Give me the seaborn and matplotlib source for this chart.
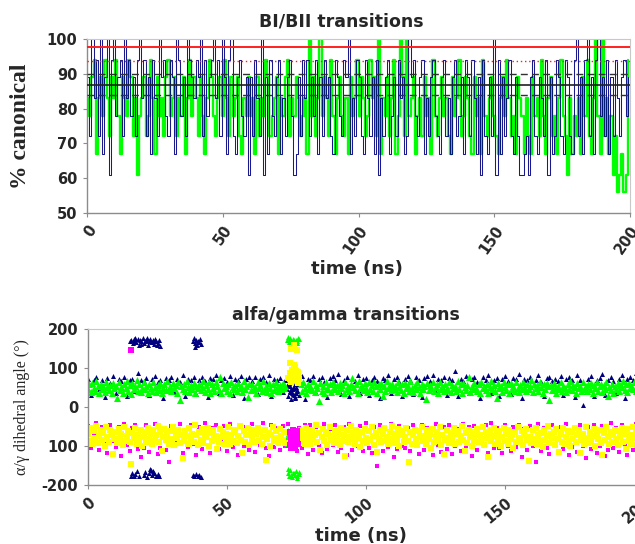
import numpy as np
import pandas as pd
import matplotlib
matplotlib.use("Agg")
import matplotlib.pyplot as plt
import seaborn as sns

nan = float("nan")

# ---------------- Top panel: BI/BII transitions (% canonical) ----------------
bibii_green = [
    83, 78, 89, 94, 67, 83, 89, 78, 94, 83, 72, 89, 83, 94, 78, 67, 89, 83, 78, 94, 89, 72, 83, 61, 78,
    83, 89, 72, 78, 94, 83, 67, 89, 78, 83, 72, 89, 94, 78, 83, 89, 72, 83, 78, 89, 67, 83, 94, 78, 89,
    83, 72, 89, 78, 67, 83, 94, 89, 78, 72, 83, 89, 78, 94, 83, 72, 89, 78, 83, 89, 72, 67, 83, 78, 89,
    78, 83, 67, 89, 72, 83, 78, 94, 89, 72, 78, 83, 89, 67, 83, 78, 89, 94, 72, 83, 78, 89, 83, 72, 78,
    83, 67, 100, 78, 89, 72, 83, 100, 78, 89, 83, 72, 94, 78, 67, 83, 89, 78, 72, 83, 67, 89, 78, 83, 94,
    78, 89, 83, 72, 78, 94, 83, 89, 72, 100, 67, 83, 78, 89, 72, 83, 94, 67, 78, 100, 89, 72, 100, 78, 83,
    89, 67, 78, 83, 72, 89, 78, 83, 67, 94, 78, 72, 83, 89, 78, 83, 72, 67, 89, 78, 83, 94, 72, 78, 89,
    83, 72, 67, 89, 78, 83, 67, 94, 78, 72, 83, 89, 78, 72, 67, 83, 89, 78, 94, 83, 72, 78, 67, 89, 83,
    78, 67, 83, 72, 67, 89, 78, 83, 72, 94, 78, 67, 83, 89, 72, 78, 67, 83, 94, 78, 72, 61, 83, 67, 78,
    72, 83, 67, 89, 78, 94, 72, 67, 83, 100, 78, 67, 100, 72, 83, 67, 78, 61, 72, 56, 61, 67, 56, 61, 94,
]
bibii_navy = [
    89, 72, 100, 83, 94, 72, 100, 67, 89, 100, 61, 94, 100, 78, 89, 94, 72, 100, 83, 94, 78, 89, 72, 94, 100,
    83, 94, 72, 89, 67, 94, 83, 72, 100, 89, 94, 78, 72, 94, 89, 67, 100, 94, 78, 89, 72, 100, 94, 89, 83,
    94, 89, 100, 72, 94, 78, 89, 94, 100, 83, 94, 72, 100, 89, 67, 94, 100, 72, 67, 89, 94, 78, 72, 89, 61,
    89, 72, 94, 83, 72, 100, 61, 89, 67, 94, 78, 72, 89, 94, 67, 83, 72, 89, 94, 78, 61, 67, 89, 72, 94,
    83, 94, 72, 89, 78, 94, 67, 89, 72, 94, 83, 89, 72, 67, 94, 89, 78, 72, 94, 89, 100, 67, 83, 72, 94,
    89, 72, 67, 94, 83, 72, 89, 67, 94, 61, 83, 72, 89, 94, 67, 78, 89, 72, 94, 83, 89, 67, 72, 100, 89,
    94, 78, 72, 89, 94, 67, 83, 72, 89, 94, 78, 72, 67, 89, 94, 72, 83, 67, 89, 94, 72, 78, 89, 67, 94,
    89, 72, 94, 83, 67, 89, 61, 94, 72, 67, 89, 72, 100, 61, 94, 67, 89, 72, 83, 94, 72, 67, 89, 72, 61,
    61, 67, 72, 61, 89, 94, 72, 67, 89, 83, 72, 94, 61, 89, 67, 72, 94, 89, 72, 67, 94, 89, 72, 67, 94,
    100, 72, 89, 67, 94, 100, 72, 89, 67, 94, 100, 78, 89, 72, 94, 67, 89, 72, 94, 83, 72, 89, 94, 78, 89,
]
bibii_time = np.arange(len(bibii_green)) * 0.8  # sampling grid (ns)

ref_red_solid = 97.8
ref_red_dotted = 93.8
ref_black_dashed = [90.0, 83.9]
ref_black_solid = 86.8

# ---------------- Bottom panel: alfa/gamma transitions (degrees) ----------------
ag_green = [
    45, 58, 38, 62, 50, 41, 66, 53, 35, 60, 47, 55, 39, 64, 51, 43, 57, 36, 61, 49,
    54, 22, 63, 44, 52, 37, 59, 48, 66, 40, 56, 33, 61, 46, 53, 70, 42, 58, 38, 50,
    63, 45, 55, 36, 60, 48, 41, 65, 52, 39, 57, 44, 62, 35, 50, 58, 43, 67, 47, 54,
    40, 61, 49, 56, 37, 64, 18, 53, 45, 59, 42, 66, 51, 38, 57, 46, 62, 36, 55, 48,
    60, 43, 52, 67, 39, 56, 47, 63, 35, 58, 50, 41, 65, 54, 44, 78, 37, 61, 48, 53,
    42, 59, 36, 64, 51, 45, 57, 40, 62, 49, 55, 38, 66, 46, 53, 25, 60, 43, 58, 47,
    52, 37, 63, 48, 56, 41, 67, 45, 54, 39, 61, 50, 35, 58, 44, 64, 51, 40, 57, 46,
    62, 49, 55, nan, nan, nan, nan, nan, nan, nan, nan, nan, nan, 58, 41, 64, 50, 37, 60, 47,
    53, 44, 66, 39, 57, 48, 15, 61, 42, 55, 36, 63, 50, 45, 59, 38, 65, 52, 47, 56,
    40, 62, 49, 57, 35, 64, 46, 53, 41, 60, 74, 51, 43, 58, 37, 66, 48, 55, 44, 61,
    50, 39, 63, 47, 56, 42, 65, 53, 36, 59, 45, 62, 28, 54, 40, 67, 49, 57, 43, 60,
    46, 55, 38, 64, 51, 44, 58, 35, 62, 48, 53, 41, 66, 50, 39, 57, 45, 63, 52, 37,
    59, 47, 54, 20, 61, 43, 56, 49, 65, 40, 52, 58, 36, 63, 46, 55, 42, 60, 50, 44,
    64, 38, 57, 48, 53, 41, 67, 45, 59, 36, 62, 51, 43, 56, 76, 39, 54, 47, 61, 50,
    42, 58, 37, 63, 49, 55, 44, 60, 35, 52, 66, 46, 57, 40, 24, 61, 48, 53, 38, 64,
    51, 43, 59, 36, 62, 47, 55, 41, 65, 50, 38, 57, 45, 63, 52, 40, 58, 46, 54, 68,
    39, 60, 48, 56, 42, 64, 51, 37, 58, 45, 62, 53, 19, 57, 44, 61, 49, 36, 55, 47,
    63, 41, 54, 50, 38, 59, 46, 66, 43, 57, 52, 35, 61, 48, 55, 40, 64, 47, 53, 42,
    58, 45, 62, 37, 56, 49, 65, 42, 53, 60, 39, 57, 46, 63, 27, 51, 44, 59, 36, 54,
    47, 61, 40, 56, 52, 66, 43, 58, 38, 62, 49, 55, 45, 64, 41, 57, 50, 37, 60, 53,
]
ag_yellow = [
    -70, -88, -55, -95, -62, -80, -48, -92, -75, -58, -85, -66, -99, -52, -78, -90, -60, -72, -120, -83,
    -64, -93, -57, -81, -69, -97, -50, -86, -74, -61, -89, -145, -67, -79, -54, -94, -71, -84, -59, -100,
    -76, -63, -91, -53, -82, -68, -96, -58, -87, -73, -49, -90, -65, -112, -77, -56, -85, -70, -94, -61,
    -83, -51, -98, -66, -79, -59, -92, -72, -130, -86, -62, -75, -95, -55, -81, -68, -89, -47, -73, -97,
    -64, -85, -57, -93, -70, -78, -53, -99, -67, -88, -60, -82, -74, -108, -91, -56, -76, -63, -94, -69,
    -80, -52, -96, -71, -87, -58, -65, -92, -75, -48, -84, -118, -62, -89, -73, -55, -97, -67, -81, -60,
    -90, -70, -54, -86, -63, -95, -77, -58, -135, -83, -66, -99, -72, -50, -88, -61, -79, -93, -57, -74,
    -85, -65, -92, nan, nan, nan, nan, nan, nan, nan, nan, nan, nan, -60, -88, -71, -96, -55, -80, -68,
    -94, -59, -82, -73, -47, -91, -66, -110, -78, -56, -87, -63, -98, -70, -52, -84, -75, -93, -61, -81,
    -69, -97, -54, -86, -72, -125, -60, -90, -77, -49, -83, -66, -95, -58, -80, -71, -102, -64, -88, -56,
    -79, -93, -62, -85, -51, -74, -98, -67, -115, -82, -59, -90, -70, -55, -87, -76, -96, -63, -81, -48,
    -92, -68, -84, -57, -99, -73, -61, -89, -77, -53, -86, -140, -65, -94, -71, -58, -83, -97, -62, -78,
    -50, -88, -74, -95, -60, -82, -69, -104, -56, -91, -76, -64, -87, -52, -98, -72, -120, -85, -59, -79,
    -93, -66, -81, -54, -96, -70, -62, -89, -75, -48, -84, -112, -67, -92, -58, -78, -99, -63, -86, -73,
    -57, -90, -71, -83, -52, -97, -65, -80, -128, -60, -88, -74, -55, -94, -69, -85, -61, -100, -77, -53,
    -87, -68, -95, -59, -82, -73, -106, -64, -91, -50, -79, -86, -62, -98, -71, -56, -84, -138, -76, -93,
    -60, -81, -54, -96, -72, -88, -66, -103, -58, -85, -75, -49, -92, -69, -80, -63, -97, -57, -83, -116,
    -70, -89, -53, -94, -77, -61, -86, -100, -65, -82, -55, -91, -73, -59, -118, -84, -68, -96, -51, -79,
    -92, -63, -87, -74, -56, -99, -70, -81, -60, -93, -124, -67, -85, -52, -78, -95, -64, -89, -72, -58,
    -83, -97, -61, -76, -54, -90, -69, -108, -57, -86, -73, -94, -50, -80, -66, -98, -62, -88, -75, -55,
]
ag_fine_time = np.arange(len(ag_green)) * 0.5  # sampling grid (ns)

ag_navy = [
    72, 30, 68, 78, 45, 70, 25, 74, 62, 80, 35, 71, 66, 76, 28, 69, 73, 40, 88, 70,
    67, 75, 32, 72, 79, 64, 70, 22, 74, 68, 77, 38, 71, 65, 81, 29, 73, 69, 76, 33,
    70, 78, 66, 26, 74, 71, 83, 36, 69, 75, 64, 79, 31, 72, 68, 80, 24, 73, 77, 67,
    76, 34, 71, 78, 65, 82, 27, 73, 69, 75, 39, 70, 60, 45, 30, 74, 66, 79, 21, 71,
    68, 80, 35, 72, 77, 64, 25, 74, 79, 70, 84, 33, 69, 76, 28, 73, 67, 81, 37, 72,
    75, 30, 70, 78, 66, 23, 74, 69, 82, 36, 71, 77, 65, 29, 73, 80, 68, 34, 76, 70,
    26, 74, 79, 67, 83, 38, 72, 68, 77, 31, 75, 70, 92, 27, 73, 66, 80, 35, 71, 78,
    64, 24, 76, 70, 81, 37, 69, 74, 28, 72, 79, 66, 33, 75, 71, 85, 22, 73, 68, 77,
    36, 70, 82, 65, 29, 74, 78, 67, 71, 67, 80, 32, 73, 76, 69, 25, 83, 70, 5, 38,
    72, 79, 27, 68, 74, 84, 31, 70, 77, 66, 35, 73, 81, 23, 71, 76, 68, 86, 30, 74,
]
ag_magenta = [
    -48, -105, -75, -42, -110, -52, -95, -118, -45, -88, -102, -50, -125, -44, -98, -112, -55, -46, -108, -128,
    -104, -47, -115, -92, -43, -120, -106, -53, -111, -140, -49, -101, -85, -44, -117, -58, -103, -46, -96, -122,
    -51, -108, -41, -99, -119, -54, -45, -107, -90, -48, -113, -43, -102, -57, -124, -46, -100, -52, -109, -44,
    -115, -50, -97, -42, -106, -126, -47, -103, -55, -111, -49, -100, -44, -95, -108, -114, -53, -105, -46, -121,
    -45, -110, -52, -101, -118, -43, -107, -56, -98, -47, -116, -104, -50, -122, -44, -109, -58, -100, -48, -113,
    -42, -105, -119, -51, -152, -46, -112, -55, -103, -44, -127, -108, -49, -101, -106, -53, -114, -47, -99, -120,
    -46, -111, -54, -102, -123, -43, -98, -115, -50, -107, -45, -120, -100, -57, -112, -44, -104, -52, -126, -48,
    -109, -55, -101, -46, -117, -42, -105, -53, -106, -119, -47, -99, -113, -51, -103, -45, -128, -56, -110, -49,
    -100, -140, -44, -114, -54, -105, -121, -47, -97, -112, -50, -108, -43, -124, -102, -56, -116, -46, -99, -130,
    -52, -107, -45, -118, -101, -49, -125, -111, -42, -104, -55, -115, -47, -100, -122, -53, -109, -44, -119, -48,
]
ag_coarse_time = np.arange(len(ag_navy)) * 1.0  # sampling grid (ns)

# transition episodes
navy_ex_t = [15.2, 15.6, 16.1, 16.5, 17.0, 17.4, 17.9, 18.3, 18.8, 19.2, 19.7, 20.1, 20.6, 21.0, 21.5,
             21.9, 22.4, 22.8, 23.3, 23.7, 24.2, 24.6, 25.1, 25.5, 25.9, 16.8, 19.0, 21.2, 23.0, 24.9,
             37.6, 38.0, 38.4, 38.9, 39.3, 39.7, 40.2, 40.6, 38.6, 39.9,
             15.3, 15.9, 16.4, 17.0, 17.6, 18.2, 20.0, 20.6, 21.3, 21.9, 22.5, 23.1, 23.8, 24.4, 25.0,
             25.6, 22.2, 23.5, 37.8, 38.3, 38.9, 39.4, 40.0, 40.5,
             71.6, 71.9, 72.2, 72.5, 72.8, 73.1, 73.4, 73.7, 74.0, 74.3, 74.6, 74.9, 75.2, 75.5, 75.8,
             72.0, 72.7, 73.3, 73.9, 74.5, 75.1, 75.7, 72.4, 73.6, 74.8]
navy_ex_v = [168, 172, 163, 175, 170, 166, 174, 160, 171, 168, 176, 164, 170, 173, 158,
             169, 175, 166, 171, 162, 174, 168, 165, 172, 156, 177, 161, 178, 167, 159,
             170, 176, 163, 172, 158, 168, 174, 161, 155, 166,
             -176, -168, -178, -172, -165, -177, -174, -166, -179, -170, -162, -175, -168, -177, -171,
             -178, -158, -164, -175, -178, -172, -177, -174, -179,
             45, 28, 62, 38, 55, 20, 70, 33, 48, 60, 25, 52, 40, 65, 30,
             57, 42, 35, 50, 22, 44, 58, 78, 47, 36]
green_ex_t = [71.7, 72.2, 72.7, 73.2, 73.7, 74.2, 74.7, 75.2, 75.7, 72.0, 73.0, 74.0, 75.0, 76.0,
              71.8, 72.3, 72.8, 73.3, 73.8, 74.3, 74.8, 75.3, 75.8, 72.1, 73.1, 74.1, 75.1, 76.0,
              71.5, 71.7, 71.9, 72.1, 72.3, 71.6, 71.8, 72.0, 72.2, 72.4]
green_ex_v = [172, 166, 178, 170, 175, 164, 173, 168, 176, 180, 167, 171, 165, 174,
              -170, -176, -162, -180, -168, -174, -165, -178, -171, -160, -175, -169, -182, -166,
              -62, -78, -90, -70, -85, -95, -58, -82, -74, -66]
yellow_ex_t = [72.1, 72.5, 72.9, 73.3, 73.7, 74.1, 74.5, 74.9, 75.3, 75.7, 72.7, 73.5, 74.3, 75.1, 75.9,
               73.0, 74.0, 75.0, 75.5, 74.6]
yellow_ex_v = [75, 88, 65, 95, 80, 108, 70, 92, 84, 62, 112, 78, 98, 86, 72,
               150, 160, 145, 90, 102]
magenta_ex_t = [72.6, 72.9, 73.2, 73.5, 73.8, 74.1, 74.4, 74.7, 75.0, 75.3, 72.8, 73.4, 74.0, 74.6, 75.2,
                73.1, 73.7, 74.3, 74.9, 75.5, 15.6]
magenta_ex_v = [-65, -88, -72, -95, -60, -80, -102, -70, -92, -76, -98, -84, -68, -90, -62,
                -105, -78, -86, -74, -94, 145]

xticks = [0, 50, 100, 150, 200]
top_yticks = [50, 60, 70, 80, 90, 100]
bot_yticks = [-200, -100, 0, 100, 200]
bot_yticklabels = ["-200", "100", "0", "100", "200"]

# ---------------- figure ----------------
sns.set_style("white")
plt.rcParams["font.family"] = ["DejaVu Sans"]

NAVY = "#000080"
LIME = "#00FF00"
YELLOW = "#FFFF00"
MAGENTA = "#FF00FF"
GRAY = "#8c8c8c"

fig = plt.figure(figsize=(6.35, 5.44), dpi=100)
ax1 = fig.add_axes([87 / 635, 1 - 213 / 544, 543 / 635, 174 / 544])
ax2 = fig.add_axes([88 / 635, 1 - 485 / 544, 556 / 635, 156 / 544])

# top panel
df_top = pd.DataFrame({"t": bibii_time, "green": bibii_green, "navy": bibii_navy})
sns.lineplot(data=df_top, x="t", y="green", color=LIME, lw=1.7, ax=ax1, estimator=None,
             drawstyle="steps-post")
sns.lineplot(data=df_top, x="t", y="navy", color=NAVY, lw=0.75, alpha=0.9, ax=ax1, estimator=None,
             drawstyle="steps-post")
ax1.axhline(ref_red_solid, color="#ff2020", lw=1.4, zorder=5)
ax1.axhline(ref_red_dotted, color="#ff2020", lw=1.0, ls=(0, (1, 2)), zorder=5)
for v in ref_black_dashed:
    ax1.axhline(v, color="#303030", lw=1.0, ls=(0, (5, 3)), zorder=5)
ax1.axhline(ref_black_solid, color="#202020", lw=1.2, zorder=5)
ax1.set_xlim(0, 200)
ax1.set_ylim(50, 100)
ax1.set_yticks(top_yticks)
ax1.set_xticks(xticks)
ax1.set_xticklabels([str(x) for x in xticks], rotation=55, ha="right", rotation_mode="anchor")

# bottom panel
df_nv = pd.DataFrame({"t": ag_coarse_time, "v": ag_navy})
df_mg = pd.DataFrame({"t": ag_coarse_time, "v": ag_magenta})
df_gr = pd.DataFrame({"t": ag_fine_time, "v": ag_green})
df_yl = pd.DataFrame({"t": ag_fine_time, "v": ag_yellow})
s_band = 26
s_edge = 13
sns.scatterplot(data=df_nv, x="t", y="v", color=NAVY, marker="^", s=s_edge, linewidth=0, ax=ax2)
sns.scatterplot(x=navy_ex_t, y=navy_ex_v, color=NAVY, marker="^", s=s_edge, linewidth=0, ax=ax2)
sns.scatterplot(data=df_mg, x="t", y="v", color=MAGENTA, marker="s", s=s_edge - 2, linewidth=0, ax=ax2)
sns.scatterplot(data=df_gr, x="t", y="v", color=LIME, marker="^", s=s_band, linewidth=0, ax=ax2)
sns.scatterplot(x=green_ex_t, y=green_ex_v, color=LIME, marker="^", s=s_edge, linewidth=0, ax=ax2)
sns.scatterplot(data=df_yl, x="t", y="v", color=YELLOW, marker="s", s=s_band - 4, linewidth=0, ax=ax2)
sns.scatterplot(x=yellow_ex_t, y=yellow_ex_v, color=YELLOW, marker="s", s=s_edge, linewidth=0, ax=ax2)
sns.scatterplot(x=magenta_ex_t, y=magenta_ex_v, color=MAGENTA, marker="s", s=s_edge, linewidth=0, ax=ax2)
ax2.set_xlim(0, 200)
ax2.set_ylim(-200, 200)
ax2.set_yticks(bot_yticks)
ax2.set_yticklabels(bot_yticklabels)
ax2.set_xticks(xticks)
ax2.set_xticklabels([str(x) for x in xticks], rotation=40, ha="right", rotation_mode="anchor")

for ax in (ax1, ax2):
    for side in ("left", "bottom"):
        ax.spines[side].set_color(GRAY)
        ax.spines[side].set_linewidth(1.0)
    for side in ("top", "right"):
        ax.spines[side].set_color("#c8c8c8")
        ax.spines[side].set_linewidth(0.8)
    ax.tick_params(axis="both", which="major", left=True, bottom=True, length=3,
                   color=GRAY, labelsize=10.5, pad=4)
    for lab in ax.get_xticklabels() + ax.get_yticklabels():
        lab.set_fontweight("bold")
    ax.grid(False)

# titles and labels
ax1.set_title("BI/BII transitions", fontsize=12.5, fontweight="bold",
              x=(341 - 87) / 543, y=(213 - 21) / 174, va="center", pad=0)
ax2.set_title("alfa/gamma transitions", fontsize=12.5, fontweight="bold",
              x=(346 - 88) / 556, y=(485 - 315) / 156, va="center", pad=0)

ax1.set_xlabel("time (ns)", fontsize=13, fontweight="bold")
ax1.xaxis.set_label_coords((357 - 87) / 543, (213 - 269) / 174)
ax1.xaxis.label.set_va("center")
ax2.set_xlabel("time (ns)", fontsize=13, fontweight="bold")
ax2.xaxis.set_label_coords((361 - 88) / 556, (485 - 536) / 156)
ax2.xaxis.label.set_va("center")

ax1.set_ylabel("% canonical", fontsize=17, fontweight="bold",
               family=["Liberation Serif", "DejaVu Serif"])
ax1.yaxis.set_label_coords((20 - 87) / 543, 0.5)
ax1.yaxis.label.set_va("center")
ax2.set_ylabel("α/γ dihedral angle (°)", fontsize=11.5,
               family=["Liberation Serif", "DejaVu Serif"])
ax2.yaxis.set_label_coords((22 - 88) / 556, 0.5)
ax2.yaxis.label.set_va("center")

fig.savefig("out.png", dpi=100)
